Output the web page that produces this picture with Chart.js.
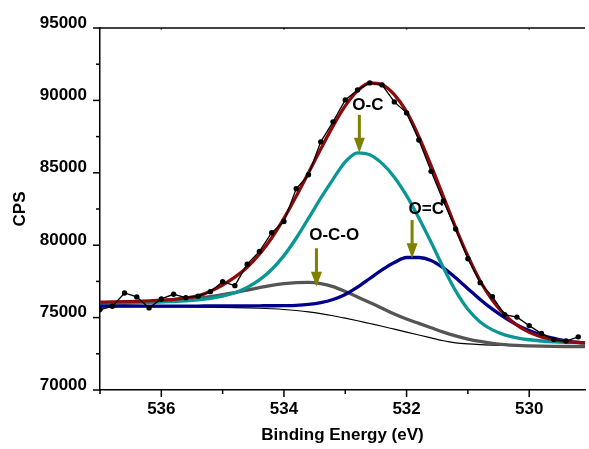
<!DOCTYPE html>
<html>
<head>
<meta charset="utf-8">
<script src="https://cdn.jsdelivr.net/npm/chart.js@4.4.1/dist/chart.umd.min.js"></script>
<style>
  html, body { margin: 0; padding: 0; background: #ffffff; }
  #wrap { width: 589px; height: 449px; position: relative; }
</style>
</head>
<body>
<div id="wrap"><canvas id="c" width="589" height="449"></canvas></div>
<script>
// ---------- data ----------
const rawEnergy = [537.0,536.8,536.6,536.4,536.2,536.0,535.8,535.6,535.4,535.2,
  535.0,534.8,534.6,534.4,534.2,534.0,533.8,533.6,533.4,533.2,
  533.0,532.8,532.6,532.4,532.2,532.0,531.8,531.6,531.4,531.2,
  531.0,530.8,530.6,530.4,530.2,530.0,529.8,529.6,529.4,529.2];
const rawCPS = [75552,75779,76703,76430,75670,76290,76610,76379,76483,76793,
  77483,77207,78690,79573,80862,81641,83897,84862,87138,88517,
  90034,90724,91207,91069,89897,89138,87265,85100,83050,81120,
  79069,77414,76448,75207,75034,74448,73897,73483,73379,73669];

const fitEnergy = [537.0,536.8,536.6,536.4,536.2,536.0,535.8,535.6,535.4,535.2,
  535.0,534.8,534.6,534.4,534.2,534.0,533.8,533.6,533.4,533.2,
  533.0,532.8,532.6,532.4,532.2,532.0,531.8,531.6,531.4,531.2,
  531.0,530.8,530.6,530.4,530.2,530.0,529.8,529.6,529.4,529.2,529.0];
const envelopeFit = [76069,76083,76100,76125,76160,76205,76265,76360,76500,76820,
  77250,77790,78480,79380,80500,81850,83380,85000,86640,88220,
  89620,90660,91200,91080,90400,89220,87500,85500,83360,81220,
  79250,77530,76200,75200,74470,73980,73670,73480,73350,73280,73240];
const ocFit = [76035,76040,76046,76054,76066,76084,76112,76155,76222,76325,
  76480,76720,77080,77600,78320,79280,80480,81850,83250,84550,
  85750,86380,86250,85650,84700,83420,81880,80200,78450,76850,
  75580,74700,74150,73810,73600,73470,73385,73330,73295,73270,73255];
const oEqCFit = [75790,75790,75790,75791,75792,75793,75795,75797,75799,75801,
  75804,75807,75811,75816,75820,75830,75850,75910,76030,76250,
  76600,77100,77700,78300,78800,79150,79150,78950,78430,77750,
  77000,76250,75580,75000,74500,74100,73790,73560,73400,73290,73230];
const ocoFit = [75952,75966,75986,76014,76055,76103,76159,76228,76324,76448,
  76586,76724,76897,77069,77228,77345,77414,77430,77350,77140,
  76800,76430,76050,75650,75250,74900,74600,74300,74000,73740,
  73520,73350,73220,73130,73075,73045,73025,73012,73005,73000,73000];
const backgroundFit = [75760,75758,75755,75752,75748,75744,75740,75734,75727,75718,
  75706,75690,75670,75645,75610,75560,75490,75400,75280,75130,
  74960,74780,74590,74400,74200,74000,73800,73600,73400,73260,
  73180,73130,73100,73080,73065,73055,73048,73043,73040,73038,73036];

const xTickLabels = [536, 534, 532, 530];
const xMinorTicks = [537, 535, 533, 531];
const yTickLabels = [70000, 75000, 80000, 85000, 90000, 95000];
const yMinorTicks = [72500, 77500, 82500, 87500, 92500];

const peakLabels = ['O-C', 'O=C', 'O-C-O'];
const peakEnergy = [532.77, 531.91, 533.47];   // where each arrow points
const peakArrowTip = [86380, 79095, 77134];
const peakArrowTail = [89000, 81740, 79786];
const labelEnergy = [532.63, 531.68, 533.18];
const labelCPS = [89648, 82452, 80704];

// ---------- chart ----------
const FONT = "'Liberation Sans', Arial, sans-serif";
const pts = (xs, ys) => ys.map((v, i) => ({ x: xs[i], y: v }));

const decorations = {
  id: 'decorations',
  afterDatasetsDraw(chart) {
    const { ctx, chartArea: a, scales: { x, y } } = chart;
    ctx.save();
    ctx.strokeStyle = '#000';
    ctx.lineWidth = 1.5;
    const line = (x1, y1, x2, y2) => { ctx.beginPath(); ctx.moveTo(x1, y1); ctx.lineTo(x2, y2); ctx.stroke(); };
    // top frame line
    line(a.left, a.top, a.right, a.top);
    // tick marks
    xTickLabels.forEach(v => { const p = x.getPixelForValue(v); line(p, a.bottom, p, a.bottom + 7); line(p, a.top, p, a.top + 1.5); });
    xMinorTicks.forEach(v => { const p = x.getPixelForValue(v); line(p, a.bottom, p, a.bottom + 4); });
    yTickLabels.forEach(v => { const p = y.getPixelForValue(v); line(a.left - 7, p, a.left, p); });
    yMinorTicks.forEach(v => { const p = y.getPixelForValue(v); line(a.left - 4, p, a.left, p); });

    // arrows + labels
    ctx.fillStyle = '#808000';
    ctx.strokeStyle = '#808000';
    peakLabels.forEach((t, i) => {
      const px = x.getPixelForValue(peakEnergy[i]);
      const tip = y.getPixelForValue(peakArrowTip[i]);
      const tail = y.getPixelForValue(peakArrowTail[i]);
      const headLen = 15, headW = 5.5;
      ctx.lineWidth = 3;
      ctx.beginPath(); ctx.moveTo(px, tail); ctx.lineTo(px, tip - headLen + 1); ctx.stroke();
      ctx.beginPath();
      ctx.moveTo(px - headW, tip - headLen);
      ctx.lineTo(px + headW, tip - headLen);
      ctx.lineTo(px, tip);
      ctx.closePath(); ctx.fill();
    });
    ctx.fillStyle = '#000';
    ctx.font = 'bold 17px ' + FONT;
    ctx.textAlign = 'center';
    ctx.textBaseline = 'middle';
    peakLabels.forEach((t, i) => {
      ctx.fillText(t, x.getPixelForValue(labelEnergy[i]), y.getPixelForValue(labelCPS[i]));
    });
    ctx.restore();
  }
};

new Chart(document.getElementById('c'), {
  type: 'line',
  data: {
    datasets: [
      { label: 'Raw data', data: pts(rawEnergy, rawCPS), borderColor: '#000', backgroundColor: '#000',
        borderWidth: 1.3, pointRadius: 2.7, pointBorderWidth: 0, pointBackgroundColor: '#000', tension: 0, order: 0 },
      { label: 'Envelope', data: pts(fitEnergy, envelopeFit), borderColor: '#8f0a0a', borderWidth: 3.3,
        pointRadius: 0, cubicInterpolationMode: 'monotone', order: 1 },
      { label: 'O-C', data: pts(fitEnergy, ocFit), borderColor: '#0b9696', borderWidth: 3.3,
        pointRadius: 0, cubicInterpolationMode: 'monotone', order: 2 },
      { label: 'O=C', data: pts(fitEnergy, oEqCFit), borderColor: '#00008c', borderWidth: 3.3,
        pointRadius: 0, cubicInterpolationMode: 'monotone', order: 3 },
      { label: 'O-C-O', data: pts(fitEnergy, ocoFit), borderColor: '#555555', borderWidth: 3.3,
        pointRadius: 0, cubicInterpolationMode: 'monotone', order: 4 },
      { label: 'Background', data: pts(fitEnergy, backgroundFit), borderColor: '#000', borderWidth: 1.2,
        pointRadius: 0, cubicInterpolationMode: 'monotone', order: 5 }
    ]
  },
  options: {
    responsive: false,
    animation: false,
    devicePixelRatio: 1,
    layout: { padding: { top: 28, right: 0, bottom: 0, left: 0 } },
    plugins: { legend: { display: false }, tooltip: { enabled: false } },
    scales: {
      x: {
        type: 'linear', reverse: true, min: 529.09, max: 537,
        afterFit: s => { s.height = 59; },
        afterBuildTicks: s => { s.ticks = xTickLabels.map(v => ({ value: v })); },
        grid: { display: false, drawTicks: false },
        border: { display: true, color: '#000', width: 1.5 },
        ticks: { color: '#000', padding: 9, maxRotation: 0, autoSkip: false,
          font: { family: FONT, size: 17, weight: 'bold' }, callback: v => String(v) },
        title: { display: true, text: 'Binding Energy (eV)', color: '#000',
          font: { family: FONT, size: 17, weight: 'bold' }, padding: { top: 0, bottom: 3 } }
      },
      y: {
        type: 'linear', min: 70000, max: 95000,
        afterFit: s => { s.width = 100; },
        afterBuildTicks: s => { s.ticks = yTickLabels.map(v => ({ value: v })); },
        grid: { display: false, drawTicks: false },
        border: { display: true, color: '#000', width: 1.5 },
        ticks: { color: '#000', padding: 13, labelOffset: -5, autoSkip: false,
          font: { family: FONT, size: 17, weight: 'bold' }, callback: v => String(v) },
        title: { display: true, text: 'CPS', color: '#000',
          font: { family: FONT, size: 17, weight: 'bold' }, padding: { top: 10, bottom: 0 } }
      }
    }
  },
  plugins: [decorations]
});
</script>
</body>
</html>
